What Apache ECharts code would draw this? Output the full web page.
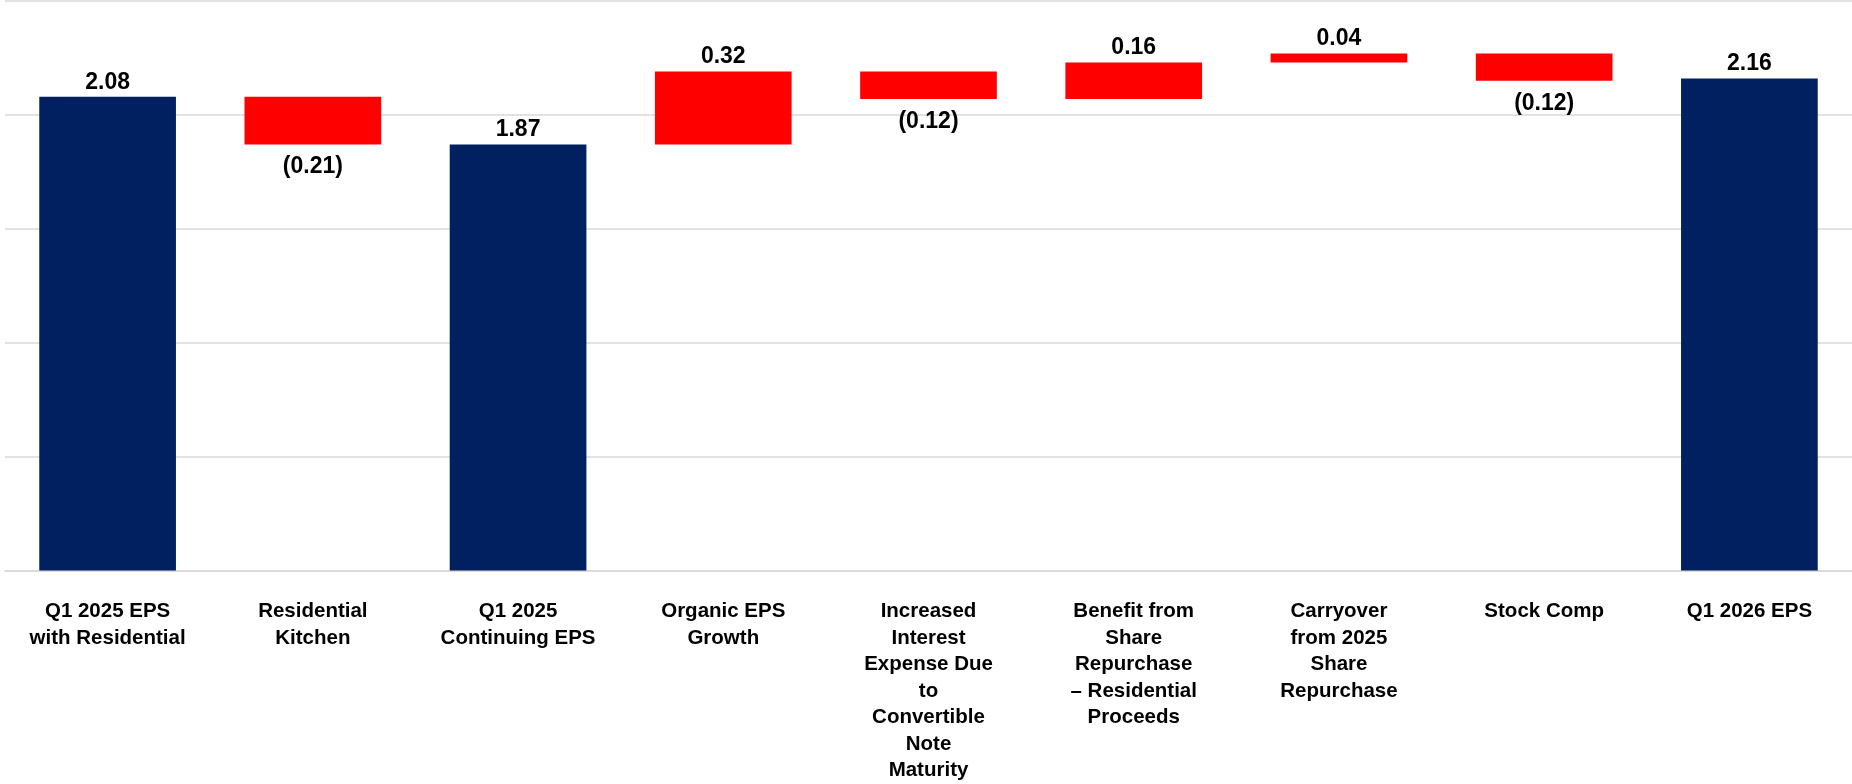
<!DOCTYPE html>
<html>
<head>
<meta charset="utf-8">
<title>EPS Bridge</title>
<script src="https://cdn.jsdelivr.net/npm/echarts@6/dist/echarts.min.js"></script>
<style>
  html, body { margin: 0; padding: 0; background: #ffffff; }
  #chart { width: 1852px; height: 784px; }
</style>
</head>
<body>
<div id="chart"></div>
<script>
// Bridge steps from Q1 2025 EPS to Q1 2026 EPS
const categories = [
  'Q1 2025 EPS\nwith Residential',
  'Residential\nKitchen',
  'Q1 2025\nContinuing EPS',
  'Organic EPS\nGrowth',
  'Increased\nInterest\nExpense Due\nto\nConvertible\nNote\nMaturity',
  'Benefit from\nShare\nRepurchase\n– Residential\nProceeds',
  'Carryover\nfrom 2025\nShare\nRepurchase',
  'Stock Comp',
  'Q1 2026 EPS'
];
const values  = [2.08, -0.21, 1.87, 0.32, -0.12, 0.16, 0.04, -0.12, 2.16];
const isTotal = [true, false, true, false, false, false, false, false, true];

// value axis
const yMin = 0, yMax = 2.5, yStep = 0.5;

// colours
const totalColor = '#002060';
const stepColor = '#ff0000';
const gridColor = '#d9d9d9';

// floating base + visible height for each step
const bases = [], heights = [];
let running = 0;
values.forEach((v, i) => {
  if (isTotal[i]) {
    bases.push(0); heights.push(v); running = v;
  } else if (v >= 0) {
    bases.push(running); heights.push(v); running += v;
  } else {
    running += v; bases.push(running); heights.push(-v);
  }
});

const fmt = v => v < 0 ? '(' + Math.abs(v).toFixed(2) + ')' : v.toFixed(2);
const valueFont = {
  fontFamily: '"Liberation Sans", Arial, sans-serif',
  fontWeight: 'bold', fontSize: 23, color: '#000000'
};

const chart = echarts.init(document.getElementById('chart'), null, { renderer: 'canvas' });
chart.setOption({
  backgroundColor: '#ffffff',
  animation: false,
  grid: { left: 5, right: 0, top: 1, bottom: 211, containLabel: false },
  xAxis: {
    type: 'category',
    data: categories,
    axisLine: { show: true, lineStyle: { color: gridColor, width: 1.5 } },
    axisTick: { show: false },
    splitLine: { show: false },
    axisLabel: {
      interval: 0, margin: 28, color: '#000000',
      fontFamily: '"Liberation Sans", Arial, sans-serif', fontWeight: 'bold',
      fontSize: 20.5, lineHeight: 26.5, align: 'center', verticalAlign: 'top'
    }
  },
  yAxis: {
    type: 'value', min: yMin, max: yMax, interval: yStep,
    axisLine: { show: false }, axisTick: { show: false }, axisLabel: { show: false },
    splitLine: { show: true, lineStyle: { color: gridColor, width: 1.5 } }
  },
  series: [
    {
      name: 'base', type: 'bar', stack: 'bridge', silent: true,
      barCategoryGap: '33.4%',
      itemStyle: { color: 'transparent' },
      data: bases
    },
    {
      name: 'EPS', type: 'bar', stack: 'bridge',
      barCategoryGap: '33.4%',
      data: heights.map((h, i) => {
        const down = !isTotal[i] && values[i] < 0;
        return {
          value: h,
          itemStyle: { color: isTotal[i] ? totalColor : stepColor },
          label: Object.assign({
            show: true,
            position: down ? 'bottom' : 'top',
            distance: down ? 11 : 3,
            formatter: () => fmt(values[i])
          }, valueFont)
        };
      })
    }
  ]
});
</script>
</body>
</html>
